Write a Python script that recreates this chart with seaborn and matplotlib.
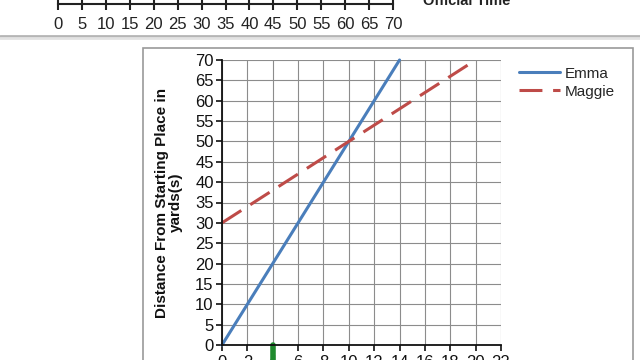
import matplotlib
matplotlib.use("Agg")
import matplotlib.pyplot as plt
import matplotlib.transforms as mtransforms
from matplotlib.lines import Line2D
import seaborn as sns
import pandas as pd

# ---- data ----
runners = ["Emma", "Maggie"]
emma_time = [0, 14]
emma_dist = [0, 70]
maggie_time = [0, 20]
maggie_dist = [30, 70]
x_ticks = list(range(0, 23, 2))
y_ticks = list(range(0, 71, 5))
top_ticks = list(range(0, 71, 5))
top_title = "Official Time"
y_label = "Distance From Starting Place in\nyards(s)"

df = pd.DataFrame({
    "time": emma_time + maggie_time,
    "dist": emma_dist + maggie_dist,
    "runner": ["Emma"] * len(emma_time) + ["Maggie"] * len(maggie_time),
})

sns.set_theme(style="white")
plt.rcParams["font.family"] = ["Liberation Sans", "DejaVu Sans"]

W, H = 640, 360
fig = plt.figure(figsize=(6.4, 3.6), dpi=100)

def fr(x0, y0, x1, y1):
    return [x0 / W, 1 - y1 / H, (x1 - x0) / W, (y1 - y0) / H]

# ---- chart box border ----
fig.add_artist(plt.Rectangle((143 / W, -0.05), (633 - 143) / W, 1 - 48 / H + 0.05,
                             transform=fig.transFigure, fill=False,
                             edgecolor="#9a9a9a", lw=1.2))
# separator line (page edge)
fig.add_artist(Line2D([0, 1], [1 - 36 / H, 1 - 36 / H], transform=fig.transFigure,
                      color="#b5b5b5", lw=2.0))
fig.add_artist(Line2D([0, 1], [1 - 38 / H, 1 - 38 / H], transform=fig.transFigure,
                      color="#e2e2e2", lw=2.0))

# ---- top number line ----
axt = fig.add_axes(fr(58, -20, 393, 4))
axt.set_xlim(0, 70)
axt.set_ylim(0, 1)
axt.set_xticks(top_ticks)
axt.set_yticks([])
for s in ["top", "left", "right"]:
    axt.spines[s].set_visible(False)
axt.spines["bottom"].set_color("#222222")
axt.spines["bottom"].set_linewidth(1.5)
axt.tick_params(axis="x", bottom=True, direction="inout", length=9, width=1.5,
                color="#222222", labelsize=12, pad=5, labelcolor="#222222")
axt.patch.set_alpha(0)
fig.text(423 / W, 1 - 1 / H, top_title, fontsize=10.5, fontweight="bold",
         ha="left", va="center", color="#222222")

# ---- main chart ----
ax = fig.add_axes(fr(222, 60, 501, 345))
palette = {"Emma": "#4a7ebb", "Maggie": "#be4b48"}
sns.lineplot(data=df, x="time", y="dist", hue="runner", style="runner",
             hue_order=runners, style_order=runners, palette=palette,
             dashes={"Emma": "", "Maggie": (7.5, 3.5)}, lw=2.2, ax=ax,
             legend=False, clip_on=False)
ax.set_xlim(0, 22)
ax.set_ylim(0, 70)
ax.set_xticks(x_ticks)
ax.set_yticks(y_ticks)
ax.grid(True, color="#8c8c8c", lw=0.8)
ax.set_axisbelow(True)
for s in ["top", "right"]:
    ax.spines[s].set_visible(False)
for s in ["left", "bottom"]:
    ax.spines[s].set_color("#111111")
    ax.spines[s].set_linewidth(1.3)
ax.tick_params(axis="both", direction="out", length=4, width=1.2, color="#111111",
               labelsize=12, labelcolor="#111111", left=True, bottom=True)
ax.tick_params(axis="y", pad=2)
ax.set_xlabel("")
ax.set_ylabel(y_label, fontsize=11, fontweight="bold", color="#111111",
              linespacing=1.0, labelpad=9)

# green pen mark below axis
trans = mtransforms.blended_transform_factory(ax.transData, ax.transAxes)
ax.add_line(Line2D([4, 4], [0, -0.06], transform=trans, color="#1f8a2e", lw=4,
                   clip_on=False, solid_capstyle="round"))

# legend
handles = [Line2D([], [], color=palette["Emma"], lw=2.2),
           Line2D([], [], color=palette["Maggie"], lw=2.2, dashes=(7.5, 3.5))]
fig.legend(handles, runners, loc="upper left", bbox_to_anchor=(508 / W, 1 - 56 / H),
           frameon=False, fontsize=11, handlelength=2.7, handletextpad=0.3,
           labelspacing=0.25, borderpad=0.2)

fig.savefig("out.png", dpi=100)
